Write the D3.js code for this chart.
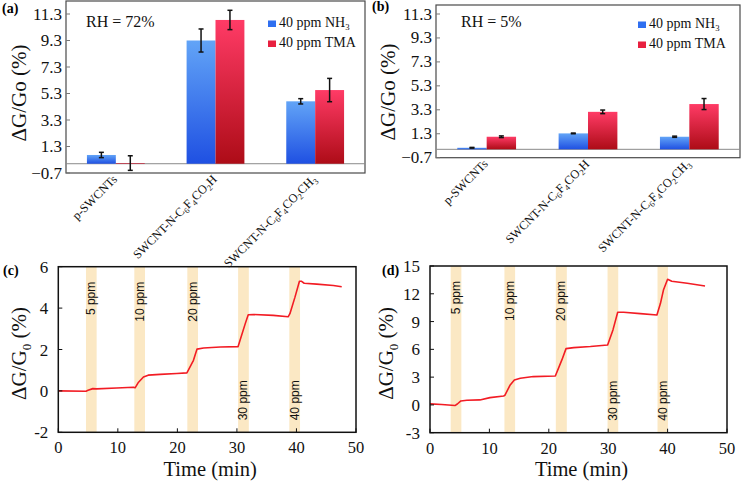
<!DOCTYPE html>
<html><head><meta charset="utf-8">
<script src="https://cdn.jsdelivr.net/npm/d3@7"></script>
<style>body{margin:0;background:#fff}svg{display:block}</style>
</head><body>
<svg id="chart" width="742" height="483"></svg>
<script>
// ---------- DATA ----------
const categories = ["p-SWCNTs", "SWCNT-N-C_6F_4CO_2H", "SWCNT-N-C_6F_4CO_2CH_3"];
const seriesNames = ["40 ppm NH_3", "40 ppm TMA"];
const barTicks = [-0.7, 1.3, 3.3, 5.3, 7.3, 9.3, 11.3];
// (a) RH = 72%
const rh72NH3 = [0.66, 9.3, 4.71];
const rh72NH3Err = [0.2, 0.87, 0.2];
const rh72TMA = [0.05, 10.85, 5.56];
const rh72TMAErr = [0.55, 0.73, 0.88];
// (b) RH = 5%
const rh5NH3 = [0.13, 1.33, 1.05];
const rh5NH3Err = [0.03, 0.03, 0.05];
const rh5TMA = [1.05, 3.13, 3.78];
const rh5TMAErr = [0.07, 0.15, 0.46];
// (c) response curve
const timeC = [0, 4.65, 5.0, 5.8, 6.4, 9.8, 12.6, 12.9, 13.4, 14.3, 15.1, 17.1, 19.9, 21.6, 22.7, 23.3, 24.4, 27.2, 30.2, 31.4, 31.9, 32.8, 36.1, 38.6, 38.9, 39.75, 40.5, 40.8, 41.3, 43.4, 46.2, 47.6];
const valC  = [0, -0.02, 0.03, 0.11, 0.1, 0.14, 0.18, 0.15, 0.39, 0.67, 0.76, 0.8, 0.84, 0.87, 1.48, 2.02, 2.07, 2.12, 2.14, 3.25, 3.68, 3.69, 3.65, 3.58, 3.73, 4.53, 5.3, 5.3, 5.2, 5.16, 5.09, 5.03];
const bandStartC = [4.65, 12.77, 21.67, 30.2, 38.8];
const bandEndC   = [6.44, 14.56, 23.46, 32.0, 40.6];
// (d) response curve
const timeD = [0, 1.97, 4.2, 4.6, 5.2, 6.2, 8.4, 10.1, 12.4, 12.6, 13.5, 14.2, 15.2, 17.4, 21.1, 22.2, 22.9, 24.2, 27.0, 29.9, 30.8, 31.6, 32.6, 35.4, 38.2, 38.8, 39.3, 40.0, 40.7, 43.3, 46.3];
const valD  = [0.11, 0.04, -0.07, 0.1, 0.43, 0.5, 0.54, 0.79, 0.97, 1.04, 2.16, 2.7, 2.88, 3.06, 3.13, 4.86, 6.08, 6.19, 6.3, 6.47, 8.1, 10.0, 10.0, 9.86, 9.71, 10.97, 12.4, 13.56, 13.35, 13.13, 12.84];
const bandStartD = [3.48, 12.53, 21.18, 29.89, 38.3];
const bandEndD   = [5.28, 14.33, 23.03, 31.69, 40.06];
const ppmLabels = ["5 ppm", "10 ppm", "20 ppm", "30 ppm", "40 ppm"];
const ppmLabelLow = [false, false, false, true, true];
const timeTicks = [0, 10, 20, 30, 40, 50];
const ticksC = [-2, 0, 2, 4, 6];
const ticksD = [-3, 0, 3, 6, 9, 12, 15];

// ---------- HELPERS ----------
const svg = d3.select("#chart");
const SERIF = "'Liberation Serif','Times New Roman',serif";
const SANS = "'Liberation Sans',Arial,sans-serif";

function richText(sel, str, fs, subScale = 0.68) {
  const parts = [];
  let buf = "";
  for (let i = 0; i < str.length; i++) {
    if (str[i] === "_") { if (buf) parts.push({ t: buf, sub: false }); buf = ""; parts.push({ t: str[i + 1], sub: true }); i++; }
    else buf += str[i];
  }
  if (buf) parts.push({ t: buf, sub: false });
  let shifted = false;
  const sh = fs * 0.22;
  parts.forEach(p => {
    const ts = sel.append("tspan").text(p.t);
    if (p.sub) {
      ts.attr("font-size", fs * subScale);
      if (!shifted) { ts.attr("dy", sh); shifted = true; }
    } else if (shifted) { ts.attr("dy", -sh); shifted = false; }
  });
  return sel;
}

const defs = svg.append("defs");
function grad(id, c0, c1) {
  const g = defs.append("linearGradient").attr("id", id).attr("x1", 0).attr("y1", 0).attr("x2", 0).attr("y2", 1);
  g.append("stop").attr("offset", "0%").attr("stop-color", c0);
  g.append("stop").attr("offset", "100%").attr("stop-color", c1);
}
grad("gBlue", "#62a4f7", "#1f50e2");
grad("gRed", "#ff3b66", "#ad0c17");
const fills = ["url(#gBlue)", "url(#gRed)"];
const legendColors = ["#2f6ff0", "#e8203f"];

// ---------- BAR PANELS ----------
function barPanel(o) {
  const g = svg.append("g");
  const x = d3.scaleBand().domain(categories).range([o.x0, o.x1]).paddingInner(0.42).paddingOuter(0.21);
  const xs = d3.scaleBand().domain([0, 1]).range([0, x.bandwidth()]);
  const y = d3.scaleLinear().domain([-0.7, 11.3]).range([o.yBot, o.yTick]);
  const series = [o.s1, o.s2], errs = [o.e1, o.e2];

  g.append("rect").attr("x", o.x0).attr("y", o.yTop).attr("width", o.x1 - o.x0).attr("height", o.yBot - o.yTop)
    .attr("fill", "none").attr("stroke", "#4a4a4a").attr("stroke-width", 1.2);
  g.append("line").attr("x1", o.x0).attr("x2", o.x1).attr("y1", y(0)).attr("y2", y(0)).attr("stroke", "#8a8a8a").attr("stroke-width", 1);
  g.selectAll(".yt").data(barTicks).enter().append("line")
    .attr("x1", o.x0).attr("x2", o.x0 + 4).attr("y1", d => y(d)).attr("y2", d => y(d)).attr("stroke", "#777");
  g.selectAll(".yl").data(barTicks).enter().append("text")
    .attr("x", o.x0 - 4).attr("y", d => y(d) + 5.5).attr("text-anchor", "end")
    .attr("font-family", SERIF).attr("font-size", 17).attr("fill", "#111")
    .text(d => d3.format(".1f")(d));

  series.forEach((s, si) => {
    g.selectAll(".b" + si).data(s).enter().append("rect")
      .attr("x", (d, i) => x(categories[i]) + xs(si))
      .attr("width", xs.bandwidth())
      .attr("y", d => Math.min(y(d), y(0)))
      .attr("height", d => Math.abs(y(d) - y(0)))
      .attr("fill", fills[si]);
  });
  series.forEach((s, si) => {
    s.forEach((d, i) => {
      const cx = x(categories[i]) + xs(si) + xs.bandwidth() / 2;
      const e = errs[si][i];
      const eg = g.append("g").attr("stroke", "#111").attr("stroke-width", 1.5);
      eg.append("line").attr("x1", cx).attr("x2", cx).attr("y1", y(d + e)).attr("y2", y(d - e));
      eg.append("line").attr("x1", cx - 2.5).attr("x2", cx + 2.5).attr("y1", y(d + e)).attr("y2", y(d + e));
      eg.append("line").attr("x1", cx - 2.5).attr("x2", cx + 2.5).attr("y1", y(d - e)).attr("y2", y(d - e));
    });
  });

  categories.forEach(c => {
    const cx = x(c) + x.bandwidth() / 2 + 2, cy = o.yBot + 7;
    const t = g.append("text").attr("transform", `translate(${cx},${cy}) rotate(-45)`)
      .attr("text-anchor", "end").attr("font-family", SERIF).attr("font-size", 12.3).attr("fill", "#111");
    richText(t, c, 12.3);
  });

  seriesNames.forEach((n, i) => {
    const ly = o.legY + i * 20;
    g.append("rect").attr("x", o.legX).attr("y", ly - 6.5).attr("width", 8).attr("height", 6.5).attr("fill", legendColors[i]);
    const t = g.append("text").attr("x", o.legX + 11).attr("y", ly).attr("font-family", SERIF).attr("font-size", 14).attr("fill", "#111");
    richText(t, n, 14, 0.62);
  });
  g.append("text").attr("x", o.rhX).attr("y", 27).attr("font-family", SERIF).attr("font-size", 16).attr("fill", "#111").text(o.rh);
  g.append("text").attr("transform", `translate(${o.titleX},${o.titleY}) rotate(-90)`).attr("text-anchor", "middle")
    .attr("font-family", SERIF).attr("font-size", 21).attr("fill", "#111").text("ΔG/Go (%)");
  g.append("text").attr("x", o.letX).attr("y", o.letY).attr("font-family", SERIF).attr("font-weight", "bold").attr("font-size", 14).text(o.letter);
}

barPanel({ x0: 66, x1: 365, yTop: 1, yBot: 173, yTick: 14, s1: rh72NH3, s2: rh72TMA, e1: rh72NH3Err, e2: rh72TMAErr,
  legX: 268, legY: 27, rhX: 86, rh: "RH = 72%", titleX: 26, titleY: 93, letX: 2, letY: 13, letter: "(a)" });
barPanel({ x0: 436, x1: 740, yTop: 5, yBot: 157.7, yTick: 14, s1: rh5NH3, s2: rh5TMA, e1: rh5NH3Err, e2: rh5TMAErr,
  legX: 638, legY: 28, rhX: 461, rh: "RH = 5%", titleX: 395, titleY: 92, letX: 372, letY: 11, letter: "(b)" });

// ---------- LINE PANELS ----------
function linePanel(o) {
  const g = svg.append("g");
  const x = d3.scaleLinear().domain([0, 50]).range([o.x0, o.x1]);
  const y = d3.scaleLinear().domain(o.yDom).range([o.yBot, o.yTop]);
  o.bs.forEach((b, i) => {
    g.append("rect").attr("x", x(b)).attr("width", x(o.be[i]) - x(b)).attr("y", o.yTop).attr("height", o.yBot - o.yTop).attr("fill", "#fbe8c4");
  });
  const pts = o.t.map((t, i) => [t, o.v[i]]);
  g.append("path").datum(pts).attr("d", d3.line().x(d => x(d[0])).y(d => y(d[1])))
    .attr("fill", "none").attr("stroke", "#f21c24").attr("stroke-width", 1.6).attr("stroke-linejoin", "round");
  ppmLabels.forEach((lab, i) => {
    const cx = x((o.bs[i] + o.be[i]) / 2) + 4;
    const low = ppmLabelLow[i];
    const ty = low ? o.yBot - 12 : o.yTop + 15;
    g.append("text").attr("transform", `translate(${cx},${ty}) rotate(-90)`)
      .attr("text-anchor", low ? "start" : "end").attr("font-family", SANS).attr("font-size", 12).attr("fill", "#111").text(lab);
  });
  g.append("rect").attr("x", o.x0).attr("y", o.yTop).attr("width", o.x1 - o.x0).attr("height", o.yBot - o.yTop)
    .attr("fill", "none").attr("stroke", "#111").attr("stroke-width", 1.5);
  g.selectAll(".xt").data(timeTicks).enter().append("line")
    .attr("x1", d => x(d)).attr("x2", d => x(d)).attr("y1", o.yBot).attr("y2", o.yBot - 4).attr("stroke", "#111");
  g.selectAll(".yt").data(o.ticks).enter().append("line")
    .attr("x1", o.x0).attr("x2", o.x0 + 4).attr("y1", d => y(d)).attr("y2", d => y(d)).attr("stroke", "#111");
  g.selectAll(".xl").data(timeTicks).enter().append("text")
    .attr("x", d => x(d)).attr("y", o.yBot + 21).attr("text-anchor", "middle")
    .attr("font-family", SERIF).attr("font-size", 16.5).attr("fill", "#111").text(d => d);
  g.selectAll(".yl").data(o.ticks).enter().append("text")
    .attr("x", o.x0 - 10).attr("y", d => y(d) + 6).attr("text-anchor", "end")
    .attr("font-family", SERIF).attr("font-size", 17).attr("fill", "#111").text(d => d);
  g.append("text").attr("x", (o.x0 + o.x1) / 2 + 3).attr("y", 476).attr("text-anchor", "middle")
    .attr("font-family", SERIF).attr("font-size", 20.5).attr("fill", "#111").text("Time (min)");
  const yt = g.append("text").attr("transform", `translate(${o.titleX},${(o.yTop + o.yBot) / 2 + 4}) rotate(-90)`).attr("text-anchor", "middle")
    .attr("font-family", SERIF).attr("font-size", 21).attr("fill", "#111");
  richText(yt, "ΔG/G_0 (%)", 21, 0.62);
  g.append("text").attr("x", o.letX).attr("y", 275).attr("font-family", SERIF).attr("font-weight", "bold").attr("font-size", 14).text(o.letter);
}

linePanel({ x0: 58.3, x1: 356, yTop: 266.7, yBot: 432.3, yDom: [-2, 6], ticks: ticksC, t: timeC, v: valC, bs: bandStartC, be: bandEndC, titleX: 26, letX: 3, letter: "(c)" });
linePanel({ x0: 430, x1: 727, yTop: 266, yBot: 432.7, yDom: [-3, 15], ticks: ticksD, t: timeD, v: valD, bs: bandStartD, be: bandEndD, titleX: 393, letX: 382, letter: "(d)" });
</script>
</body></html>
